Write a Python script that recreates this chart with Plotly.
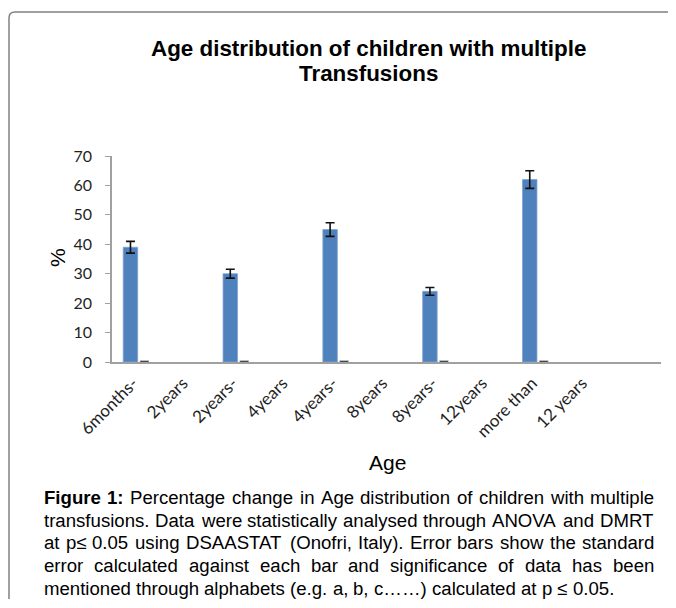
import plotly.graph_objects as go

# ---------------- data ----------------
categories = ["6months-", "2years", "2years-", "4years", "4years-", "8years",
              "8years-", "12years", "more than", "12 years"]
percent = [39, None, 30, None, 45, None, 24, None, 62, None]
std_err = [2.0, 0, 1.5, 0, 2.3, 0, 1.3, 0, 3.0, 0]
second_series = [0.5, None, 0.5, None, 0.5, None, 0.5, None, 0.5, None]
y_ticks = [0, 10, 20, 30, 40, 50, 60, 70]

title_lines = ["Age distribution of children with multiple", "Transfusions"]
caption_lines = [
    "Figure 1: Percentage change in Age distribution of children with multiple",
    "transfusions. Data were statistically analysed through ANOVA and DMRT",
    "at p≤ 0.05 using DSAASTAT (Onofri, Italy). Error bars show the standard",
    "error calculated against each bar and significance of data has been",
    "mentioned through alphabets (e.g. a, b, c……) calculated at p ≤ 0.05.",
]

# ---------------- geometry (pixels) ----------------
OFF = 8  # page body margin
W, H = 676 - OFF, 608 - 2 * OFF
L, R, T = 112 - OFF, 15, 156 - OFF
B = H - (362 - OFF)
PW = W - L - R
PH = H - T - B


def px(x):
    return (x - OFF - L) / PW


def py(y):
    return (H - B - (y - OFF)) / PH


# Arial / Liberation Sans advance widths (1/1000 em)
REG = {' ': 278, ',': 278, '-': 333, '.': 278, ':': 278, '(': 333, ')': 333,
       '…': 1000, '≤': 549}
for c in '0123456789':
    REG[c] = 556
REG.update(dict(zip("ABCDEFGHIJKLMNOPQRSTUVWXYZ",
                    [667, 667, 722, 722, 667, 611, 778, 722, 278, 500, 667, 556, 833,
                     722, 778, 667, 778, 722, 667, 611, 722, 667, 944, 667, 667, 611])))
REG.update(dict(zip("abcdefghijklmnopqrstuvwxyz",
                    [556, 556, 500, 556, 556, 278, 556, 556, 222, 222, 500, 222, 833,
                     556, 556, 556, 556, 333, 500, 278, 556, 500, 722, 500, 500, 500])))
BOLD = {'F': 611, 'i': 278, 'g': 611, 'u': 611, 'r': 389, 'e': 556, '1': 556, ':': 333, ' ': 278}


def wwidth(word, bold=False):
    tab = BOLD if bold else REG
    return sum(tab.get(ch, 556) for ch in word) / 1000.0


fig = go.Figure()
fig.add_trace(go.Bar(
    x=categories, y=percent, width=0.29, offset=-0.275,
    marker=dict(color="#4F81BD", line=dict(color="#7ea3d3", width=0.8)),
    error_y=dict(type="data", array=std_err, color="#111111", thickness=1.6, width=4.5),
    hoverinfo="skip",
))
fig.add_trace(go.Bar(
    x=categories, y=second_series, width=0.18, offset=0.06,
    marker=dict(color="#111111"), hoverinfo="skip",
))

annotations = []
# title
for i, line in enumerate(title_lines):
    annotations.append(dict(
        text="<b>%s</b>" % line, x=px(368), y=py([48, 74][i]), xref="paper", yref="paper",
        showarrow=False, xanchor="center", yanchor="middle",
        font=dict(family="Liberation Sans, Arial", size=22.4, color="#000000")))
# axis titles
annotations.append(dict(text="%", x=px(57), y=py(258), xref="paper", yref="paper",
                        showarrow=False, textangle=-90, xanchor="center", yanchor="middle",
                        font=dict(family="Liberation Sans, Arial", size=21, color="#000000")))
annotations.append(dict(text="Age", x=px(387), y=py(462), xref="paper", yref="paper",
                        showarrow=False, xanchor="center", yanchor="middle",
                        font=dict(family="Liberation Sans, Arial", size=21, color="#000000")))

# caption, justified word by word
left_x, right_x = 42, 652
line_y = [497, 520, 542, 565, 588]
words_per_line = []
for li, line in enumerate(caption_lines):
    ws = line.split(" ")
    words_per_line.append([(w, li == 0 and k < 2) for k, w in enumerate(ws)])

last_units = sum(wwidth(w, b) for w, b in words_per_line[-1]) + REG[' '] / 1000.0 * (len(words_per_line[-1]) - 1)
cap_size = 570.0 / last_units

for li, words in enumerate(words_per_line):
    widths = [wwidth(w, b) * cap_size for w, b in words]
    if li < len(words_per_line) - 1:
        gap = (right_x - left_x - sum(widths)) / (len(words) - 1)
    else:
        gap = REG[' '] / 1000.0 * cap_size
    x = left_x
    for (w, b), ww in zip(words, widths):
        annotations.append(dict(
            text=("<b>%s</b>" % w) if b else w, x=px(x), y=py(line_y[li]),
            xref="paper", yref="paper", showarrow=False, xanchor="left", yanchor="middle",
            font=dict(family="Liberation Sans, Arial", size=cap_size, color="#000000")))
        x += ww + gap

# rounded border frame (left side + top-left corner + top side), kept inside the figure
rx, ry = 6 / PW, 6 / PH
xl, yt = px(9), py(12)
xr, yb = px(675), py(599)
frame_path = "M %f,%f L %f,%f Q %f,%f %f,%f L %f,%f" % (
    xl, yb, xl, yt - ry, xl, yt, xl + rx, yt, xr, yt)

fig.update_layout(
    width=W, height=H,
    margin=dict(l=L, r=R, t=T, b=B, pad=0),
    paper_bgcolor="white", plot_bgcolor="white",
    barmode="overlay", showlegend=False,
    annotations=annotations,
    shapes=[dict(type="path", path=frame_path, xref="paper", yref="paper", layer="below",
                 line=dict(color="#808080", width=1.5))],
    xaxis=dict(type="category", range=[-0.5, 10.5], showline=True, linecolor="#a0a0a0",
               linewidth=1.5, ticks="", tickangle=-45, showgrid=False, zeroline=False,
               ticklabelshift=-4, ticklabelstandoff=3,
               tickfont=dict(family="Lato", size=17, color="#1f1f1f")),
    yaxis=dict(range=[0, 70], tickvals=y_ticks, showline=True, linecolor="#a0a0a0",
               linewidth=1.5, ticks="outside", ticklen=5, tickcolor="#a0a0a0", tickwidth=1.2,
               showgrid=False, zeroline=False, ticklabelstandoff=10,
               tickfont=dict(family="Lato", size=16, color="#1f1f1f")),
)

fig.write_html("out.html")
